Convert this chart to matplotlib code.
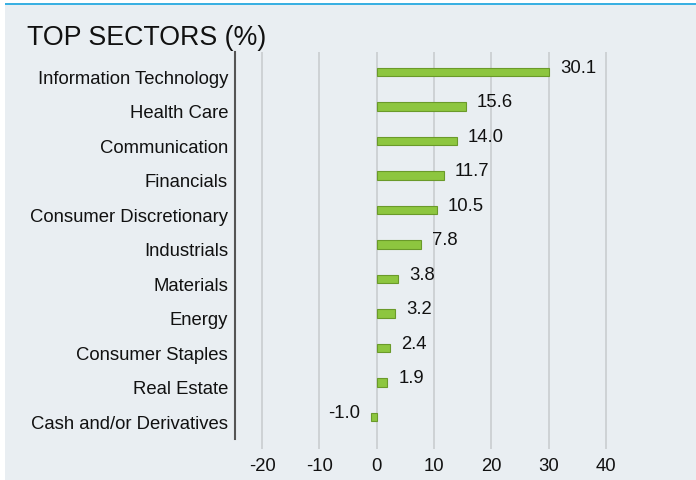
import matplotlib.pyplot as plt
from matplotlib.patches import Rectangle
from matplotlib.transforms import ScaledTranslation

plt.rcParams['font.family'] = ['Liberation Sans', 'DejaVu Sans']

### Data
sectors = ['Information Technology', 'Health Care', 'Communication', 'Financials',
           'Consumer Discretionary', 'Industrials', 'Materials', 'Energy',
           'Consumer Staples', 'Real Estate', 'Cash and/or Derivatives']
weights = [30.1, 15.6, 14.0, 11.7, 10.5, 7.8, 3.8, 3.2, 2.4, 1.9, -1.0]
x_ticks = [-20, -10, 0, 10, 20, 30, 40]

bg = '#e9eef2'
W, H = 696, 481

fig = plt.figure(figsize=(W / 100, H / 100), dpi=100)
fig.patch.set_facecolor('white')

# panel background + blue top rule (behind the axes)
fig.patches.append(Rectangle((5 / W, 0), 1 - 5 / W, 1 - 4 / H, transform=fig.transFigure,
                             facecolor=bg, edgecolor='none', zorder=-10))
fig.patches.append(Rectangle((5 / W, 1 - 6 / H), 1 - 5 / W, 2.5 / H, transform=fig.transFigure,
                             facecolor='#3ab0e2', edgecolor='none', zorder=-9))

# axes position in pixels
left, right, top, bottom = 235, 696, 53, 450
ax = fig.add_axes([left / W, 1 - bottom / H, (right - left) / W, (bottom - top) / H])
ax.set_facecolor('none')

y = list(range(len(sectors)))
ax.barh(y, weights, height=0.26, color='#8dc63f', edgecolor='#6a9a2a', linewidth=0.8, zorder=3)

for yi, v in zip(y, weights):
    if v >= 0:
        ax.annotate(f'{v:.1f}', (v, yi), xytext=(8, 3.5), textcoords='offset points',
                    ha='left', va='center', fontsize=13.3, color='#111111')
    else:
        ax.annotate(f'{v:.1f}', (v, yi), xytext=(-8, 3.5), textcoords='offset points',
                    ha='right', va='center', fontsize=13.3, color='#111111')

xmin = -20 - (262 - left) / 5.73
xmax = xmin + (right - left) / 5.73
ax.set_xlim(xmin, xmax)
ytop = -(73 - top) / 34.5
ybot = ytop + (bottom - top) / 34.5
ax.set_ylim(ybot, ytop)
ax.set_xticks(x_ticks)
ax.set_xticklabels([str(t) for t in x_ticks], fontsize=13.3)
ax.set_yticks(y)
ax.set_yticklabels(sectors, fontsize=13.3)
ax.tick_params(axis='both', length=0, colors='#111111')
ax.tick_params(axis='x', pad=6)
ax.tick_params(axis='y', pad=5)
for lab in ax.get_yticklabels():
    lab.set_transform(lab.get_transform() + ScaledTranslation(0, -4 / 100, fig.dpi_scale_trans))
ax.xaxis.grid(True, color='#c9cdd0', linewidth=1.2, zorder=0)
ax.set_axisbelow(True)

for s in ['top', 'right', 'bottom']:
    ax.spines[s].set_visible(False)
ax.spines['left'].set_color('#555555')
ax.spines['left'].set_linewidth(1.5)
ax.spines['left'].set_bounds(ytop + (440 - top) / 34.5, ytop)

fig.text(27 / W, 1 - 38 / H, 'TOP SECTORS (%)', fontsize=19.3, color='#111111',
         ha='left', va='center')

fig.savefig('out.png', dpi=100, facecolor=fig.get_facecolor())
